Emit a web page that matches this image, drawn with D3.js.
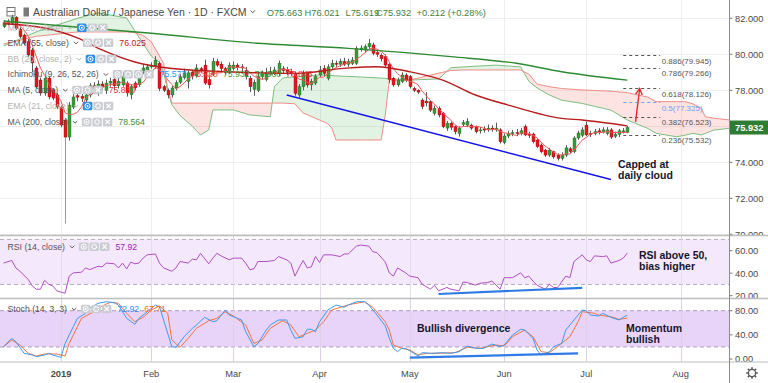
<!DOCTYPE html>
<html><head><meta charset="utf-8">
<script src="https://cdn.jsdelivr.net/npm/d3@7/dist/d3.min.js"></script>
<style>html,body{margin:0;padding:0;background:#fff}svg{display:block}</style>
</head><body>
<svg id="chart" width="768" height="383" font-family="'Liberation Sans', Arial, sans-serif"></svg>
<script>
// ---------------- DATA ----------------
const barOpen = [81.53,81.76,81.72,82.05,81.40,81.07,80.70,80.24,79.24,78.57,77.85,78.68,78.02,77.74,77.07,76.35,75.40,77.07,77.70,77.66,77.46,77.74,78.25,78.00,78.35,78.00,78.40,78.60,78.25,78.30,78.40,77.75,78.40,78.30,79.00,79.10,79.30,79.30,79.50,78.20,78.00,77.74,78.13,78.45,78.70,78.50,79.00,78.80,79.20,79.40,78.60,78.90,79.60,79.45,79.20,79.00,79.20,79.40,79.30,79.10,78.67,78.05,78.00,78.76,78.60,79.00,78.95,78.95,79.20,79.13,79.05,78.94,77.74,78.20,78.94,78.30,78.40,78.85,79.22,78.67,79.30,79.50,79.45,79.60,79.45,79.50,79.50,80.25,80.24,80.42,80.52,80.10,79.95,79.87,79.45,78.67,78.30,78.48,78.85,78.76,78.10,78.00,77.46,77.40,77.37,76.72,77.00,76.72,75.90,76.17,75.98,75.60,76.10,76.07,76.07,75.98,75.75,75.85,75.80,75.90,75.80,75.80,75.10,75.46,75.60,75.65,75.60,75.98,75.55,75.57,75.24,74.96,74.68,74.40,74.59,74.40,74.22,74.40,74.75,74.60,75.35,75.50,76.07,75.60,75.60,75.75,75.70,75.60,75.80,75.45,75.55,75.70,75.663];
const barHigh = [81.90,81.95,82.20,82.12,81.50,81.15,80.85,80.35,79.35,78.70,78.80,78.75,78.10,77.85,77.15,76.45,77.35,77.90,77.85,77.80,77.90,78.40,78.45,78.55,78.50,78.60,78.70,78.75,78.70,79.00,78.50,78.35,78.50,78.85,79.45,79.45,79.55,79.90,79.60,78.30,78.10,78.25,78.55,78.90,79.20,79.10,79.10,79.45,79.30,79.70,78.75,79.80,79.75,79.60,79.30,79.55,79.60,79.50,79.45,79.30,78.80,78.60,78.95,79.10,79.25,79.30,79.30,79.65,79.35,79.30,79.20,79.05,78.35,79.10,79.05,78.65,78.90,79.35,79.40,79.45,79.70,79.65,79.75,79.80,79.75,79.85,80.45,80.50,80.55,80.85,80.65,80.20,80.05,80.00,79.50,78.75,78.70,79.00,78.95,78.85,78.20,78.05,77.55,77.90,77.45,77.15,77.10,76.80,76.30,76.25,76.05,76.00,76.35,76.45,76.15,76.05,75.95,76.00,76.10,76.05,76.20,75.90,75.60,75.75,75.80,75.85,75.90,76.10,75.70,75.65,75.30,75.05,74.75,74.80,74.65,74.50,74.55,74.95,74.85,75.45,75.75,75.95,76.26,75.75,75.85,75.90,75.95,75.95,75.90,75.70,75.85,75.90,76.021];
const barLow = [81.45,81.60,81.65,81.35,80.90,80.50,79.85,79.00,78.10,77.70,77.70,77.50,77.45,76.95,75.95,70.60,75.20,76.95,77.40,77.35,77.35,77.60,77.90,77.70,78.00,77.80,78.20,78.00,78.10,78.20,77.65,77.50,78.00,78.20,78.90,79.00,79.20,79.20,77.95,77.90,77.55,77.60,78.00,78.35,78.60,78.10,78.60,78.70,78.95,78.30,78.10,78.80,79.30,79.05,78.85,78.90,79.10,79.10,79.05,78.60,77.90,77.70,77.90,78.60,78.50,78.85,78.85,78.80,78.95,78.85,78.80,77.70,77.60,78.00,78.15,78.00,78.30,78.75,78.80,78.55,79.20,79.30,79.30,79.35,79.30,79.40,79.40,80.15,80.10,80.30,79.95,79.85,79.60,79.30,78.40,78.20,78.20,78.40,78.45,78.10,77.90,77.80,76.95,77.10,76.80,76.60,76.50,75.90,75.75,75.80,75.55,75.42,76.00,75.95,75.80,75.60,75.60,75.65,75.70,75.70,75.70,75.05,75.00,75.35,75.45,75.45,75.50,75.45,75.35,75.05,74.80,74.50,74.30,74.30,74.20,74.10,74.10,74.30,74.50,74.50,75.25,75.40,75.45,75.40,75.50,75.55,75.60,75.50,75.30,75.35,75.40,75.60,75.619];
const barClose = [81.76,81.70,82.05,81.44,80.98,80.63,79.96,79.52,78.18,77.85,78.68,77.63,77.57,77.07,76.07,75.40,77.18,77.63,77.62,77.55,77.74,78.25,78.10,78.35,78.20,78.40,78.50,78.25,78.50,78.75,77.85,78.20,78.15,78.76,79.24,79.30,79.40,79.68,78.10,78.00,77.74,78.13,78.42,78.75,78.97,78.97,78.80,79.24,79.10,78.40,78.30,79.60,79.40,79.20,79.00,79.40,79.40,79.30,79.25,78.75,78.20,78.45,78.76,78.90,79.00,79.05,79.13,79.50,79.10,79.00,78.95,77.83,78.20,78.94,78.30,78.50,78.76,79.13,78.94,79.30,79.50,79.45,79.60,79.45,79.60,79.68,80.33,80.35,80.42,80.60,80.06,80.00,79.75,79.40,78.60,78.30,78.57,78.85,78.57,78.20,78.00,77.90,77.09,77.30,76.90,77.00,76.63,75.98,76.17,75.95,75.70,75.90,76.20,76.26,75.90,75.70,75.80,75.80,75.90,75.85,75.90,75.14,75.46,75.60,75.65,75.60,75.75,75.52,75.50,75.14,74.87,74.59,74.40,74.68,74.30,74.22,74.40,74.80,74.60,75.35,75.63,75.80,75.52,75.55,75.70,75.70,75.80,75.80,75.40,75.55,75.75,75.75,75.932];

// EMA 55 and MA 200 (bar index, value)
const ema55Idx = [0,10,18,24,32,40,56,71,83,91,99,107,115,123,136,141,152];
const ema55Val = [81.7,81.46,80.91,80.24,79.57,79.24,79.02,78.94,79.22,79.31,79.03,78.57,77.74,77.18,76.44,76.35,76.025];
const ma200Idx = [0,36,62,84,109,125,136,152];
const ma200Val = [81.85,81.17,80.61,80.33,79.87,79.5,79.03,78.564];

// Ichimoku cloud (leading spans, projected 26 bars ahead)
const ichiIdx = [0,8,18,23,30,32,34,36,38,39,40,41,43,46,48,50,51,56,60,65,66,68,71,73,77,79,80,81,87,92,93,94,99,106,109,112,120,126,128,130,133,136,141,148,152,157,159,164,166,168,170,171,173,177];
const spanA = [80.46,81.25,82.0,82.3,82.02,81.3,80.6,79.9,79.55,79.0,78.0,77.2,76.6,76.0,75.52,75.8,76.91,76.91,76.63,76.53,78.2,78.68,78.75,78.8,78.85,78.85,78.82,78.8,78.74,78.68,78.66,78.64,78.57,78.63,79.25,79.3,79.4,79.3,78.5,78.13,77.74,77.45,77.27,76.9,76.35,75.88,75.61,75.42,75.5,75.61,75.52,75.6,75.79,75.89];
const spanB = [80.57,81.0,81.24,81.24,81.24,81.2,81.05,80.7,79.9,79.5,78.1,77.29,77.29,77.29,77.29,77.29,77.29,77.29,77.29,77.29,77.29,77.29,77.25,76.74,76.35,76.15,75.9,75.24,75.24,75.24,76.6,78.57,78.57,78.95,79.1,79.13,79.13,79.13,78.9,78.35,78.2,78.1,78.02,77.95,77.87,77.62,77.37,77.37,77.37,77.25,77.0,76.53,76.45,76.35];

// RSI (14)
const rsiIdx = [0,2,3,4,6,7,8,9,10,11,12,13,15,16,17,19,20,21,23,24,25,27,28,29,30,31,32,33,34,35,37,38,39,41,42,43,45,46,47,48,50,51,52,53,55,56,58,59,60,61,62,64,66,67,69,70,71,72,73,74,75,76,77,78,80,82,83,84,86,87,89,90,91,93,94,95,96,98,99,101,102,104,105,106,108,109,111,112,113,115,116,118,119,121,122,124,126,127,128,129,130,132,133,134,135,137,138,139,141,142,143,144,146,147,148,150,151,152];
const rsiVal = [49.0,51.3,44.7,41.7,34.5,28.7,25.8,25.8,33.7,30.2,28.7,24.3,22.1,37.4,40.3,40.9,44.7,43.2,46.1,45.6,49.0,48.4,44.7,49.0,43.8,49.9,48.4,49.0,53.4,56.3,57.1,49.0,44.7,41.7,44.7,50.4,49.0,52.5,51.9,57.7,48.4,53.4,57.7,55.4,51.9,53.4,53.4,49.0,43.2,43.8,50.4,50.4,51.3,54.8,51.9,49.0,37.4,44.7,51.3,44.7,45.6,54.8,49.6,56.3,56.3,54.8,57.1,57.1,64.1,65.0,64.1,59.1,58.3,50.0,40.3,37.4,44.7,40.3,37.4,36.0,30.2,25.8,29.3,24.3,27.3,25.8,24.3,32.2,31.7,29.3,31.0,31.7,33.0,25.8,36.0,36.0,40.3,36.0,37.4,33.0,29.3,25.8,30.2,27.3,27.3,37.4,36.0,50.4,56.3,51.9,50.4,55.4,54.8,55.4,49.0,51.3,53.4,57.92];

// Stochastic (14,3,3): %K and %D
const kIdx = [0,2,3,5,7,8,10,11,12,14,15,17,18,20,21,23,25,27,28,30,32,33,35,37,38,39,41,42,44,46,47,49,51,52,54,55,57,58,59,61,62,64,65,67,69,70,71,73,74,75,76,77,78,79,81,82,83,84,86,88,89,91,93,94,95,96,97,98,100,101,102,104,107,109,111,113,115,117,119,121,122,124,126,127,129,130,131,133,134,136,137,139,141,142,143,145,146,148,150,151,152];
const kVal = [20.4,34.2,28.7,9.4,6.6,3.9,6.6,9.4,6.6,2.8,25.9,53.5,67.4,75.7,83.9,92.2,94.9,93.2,89.4,67.4,57.5,67.4,78.3,89.4,86.6,64.6,20.4,19.4,36.9,50.8,56.3,69.0,61.8,63.4,81.1,72.8,67.4,64.6,45.2,20.4,25.9,48.0,56.3,64.6,64.6,48.0,34.2,36.9,49.2,49.2,45.2,61.8,71.2,81.1,89.4,87.7,85.6,89.4,94.9,94.9,89.4,72.8,55,34.2,17.7,12.1,17.7,17.7,9.4,5.0,10.5,9.4,10.5,9.4,12.1,21.5,17.7,17.7,24.8,20.4,23.2,39.7,49.2,48.0,34.2,14.9,6.6,12.1,20.4,25.9,48.0,64.6,81.1,80.0,72.8,71.2,75.7,69.0,64.6,69.0,72.92];
const dIdx = [0,2,4,6,8,10,13,15,16,18,19,22,24,26,28,30,32,34,36,38,40,41,43,45,47,50,52,54,56,59,61,63,65,68,70,72,74,76,78,80,83,85,88,90,93,94,95,97,99,101,103,106,110,113,116,120,122,124,127,129,131,133,135,138,140,141,144,145,148,150,152];
const dVal = [20.4,31.5,23.2,9.4,5.0,8.3,8.3,5.0,25.9,53.5,67.4,78.3,87.7,93.9,92.2,75.7,61.8,69.0,81.1,87.7,75.7,31.5,19.4,34.2,50.8,63.4,67.4,78.3,71.2,56.3,25.9,31.5,50.8,63.4,56.3,36.9,42.5,48.0,61.8,81.1,87.7,91.1,94.9,85.6,61.8,48.0,23.2,17.7,14.9,6.6,9.4,9.4,10.5,19.4,17.7,23.2,21.5,36.9,48.0,36.9,12.1,10.5,20.4,36.9,61.8,78.3,75.7,72.8,70.0,65.7,67.71];

// drawings
const trendIdx = [69,148];        const trendVal = [77.74,73.04];
const arrowIdx = [154,155];       const arrowVal = [76.25,78.10];
const rsiDivIdx = [106,141];      const rsiDivVal = [21.5,27.0];
const stoDivIdx = [99,140];       const stoDivVal = [2.2,9.4];
const fibRatios = ["0.886","0.786","0.618","0.5","0.382","0.236"];
const fibPrices = [79.945,79.266,78.126,77.325,76.523,75.532];
const fibIdx = [151,160];

// ticks / labels
const priceTicks = [70,72,74,76,78,80,82];
const rsiTicks = [20,40,60];
const stoTicks = [0,40,80];
const monthLabels = ["2019","Feb","Mar","Apr","May","Jun","Jul","Aug"];
const monthStarts = ["2019-01-02","2019-02-01","2019-03-01","2019-04-01","2019-05-01","2019-06-03","2019-07-01","2019-08-01"];
const lastPrice = 75.932;

// ---------------- SETUP ----------------
const svg = d3.select("#chart");
const defs = svg.append("defs");
const PR = 729; // price axis left edge
function clip(id,x,y,w,h){defs.append("clipPath").attr("id",id).append("rect").attr("x",x).attr("y",y).attr("width",w).attr("height",h);}
clip("cMain",0,0,PR,235); clip("cRsi",0,236,PR,62); clip("cSto",0,299,PR,63);
clip("cAxMain",PR,0,768-PR,235.5); clip("cAxRsi",PR,236,768-PR,62); clip("cAxSto",PR,299,768-PR,63);

const fmt = d3.utcFormat("%Y-%m-%d");
const holidays = new Set(["2018-12-25","2019-01-01"]);
const days = d3.utcDay.range(new Date(Date.UTC(2018,11,11)), new Date(Date.UTC(2019,8,1)))
  .filter(d => d.getUTCDay()%6 !== 0 && !holidays.has(fmt(d)));
const dayIndex = new Map(days.map((d,i)=>[fmt(d),i]));
const x = d3.scaleLinear().domain([dayIndex.get("2019-01-02"), dayIndex.get("2019-08-01")]).range([61,680.7]);
const yP = d3.scaleLinear().domain([70,82]).range([234.3,18.3]);
const yR = d3.scaleLinear().domain([20,60]).range([295.7,250.7]);
const yS = d3.scaleLinear().domain([0,80]).range([359,310.7]);

svg.append("rect").attr("width",768).attr("height",383).attr("fill","#fff");

// ---------------- GRID ----------------
const grid = svg.append("g").attr("stroke","#eeeeee").attr("stroke-width",1);
priceTicks.forEach(t=>grid.append("line").attr("x1",0).attr("x2",PR).attr("y1",Math.round(yP(t))+0.5).attr("y2",Math.round(yP(t))+0.5));
monthStarts.forEach(m=>{const xx=Math.round(x(dayIndex.get(m)))+0.5; grid.append("line").attr("x1",xx).attr("x2",xx).attr("y1",0).attr("y2",362);});

// RSI band
const rsiG = svg.append("g").attr("clip-path","url(#cRsi)");
rsiG.append("rect").attr("x",0).attr("width",PR).attr("y",yR(70)).attr("height",yR(30)-yR(70)).attr("fill","#f4e8fc");
[70,30].forEach(v=>rsiG.append("line").attr("x1",0).attr("x2",PR).attr("y1",yR(v)).attr("y2",yR(v)).attr("stroke","#b9a9c4").attr("stroke-dasharray","4,3"));
monthStarts.forEach(m=>{const xx=Math.round(x(dayIndex.get(m)))+0.5; rsiG.append("line").attr("x1",xx).attr("x2",xx).attr("y1",236).attr("y2",298).attr("stroke","#e6dcec");});
// Stoch band
const stoG = svg.append("g").attr("clip-path","url(#cSto)");
stoG.append("rect").attr("x",0).attr("width",PR).attr("y",yS(80)).attr("height",yS(20)-yS(80)).attr("fill","#e9d4f9");
[80,20].forEach(v=>stoG.append("line").attr("x1",0).attr("x2",PR).attr("y1",yS(v)).attr("y2",yS(v)).attr("stroke","#ad9bbb").attr("stroke-dasharray","4,3"));
monthStarts.forEach(m=>{const xx=Math.round(x(dayIndex.get(m)))+0.5; stoG.append("line").attr("x1",xx).attr("x2",xx).attr("y1",299).attr("y2",362).attr("stroke","#ddd0e8");});

// ---------------- MAIN PANE ----------------
const main = svg.append("g").attr("clip-path","url(#cMain)");
// Ichimoku cloud
const cloud = ichiIdx.map((i,k)=>({x:x(i),a:yP(spanA[k]),b:yP(spanB[k])}));
defs.append("clipPath").attr("id","cAboveB").append("path").attr("d",d3.area().x(d=>d.x).y0(d=>d.b).y1(-10)(cloud));
defs.append("clipPath").attr("id","cBelowB").append("path").attr("d",d3.area().x(d=>d.x).y0(d=>d.b).y1(400)(cloud));
const between = d3.area().x(d=>d.x).y0(d=>d.b).y1(d=>d.a)(cloud);
main.append("g").attr("clip-path","url(#cAboveB)").append("path").attr("d",between).attr("fill","rgba(76,175,80,0.16)");
main.append("g").attr("clip-path","url(#cBelowB)").append("path").attr("d",between).attr("fill","rgba(244,67,54,0.15)");
main.append("path").attr("d",d3.line().x(d=>d.x).y(d=>d.a)(cloud)).attr("fill","none").attr("stroke","#7cbf7f").attr("stroke-width",1);
main.append("path").attr("d",d3.line().x(d=>d.x).y(d=>d.b)(cloud)).attr("fill","none").attr("stroke","#f08c88").attr("stroke-width",1);

// Candles
const cg = main.append("g");
barClose.forEach((c,i)=>{
  const o=barOpen[i], up=c>=o, xx=Math.round(x(i));
  cg.append("line").attr("x1",xx+0.5).attr("x2",xx+0.5).attr("y1",yP(barHigh[i])).attr("y2",yP(barLow[i]))
    .attr("stroke", i===15 ? "#9a9a9a" : "#5a5a5a").attr("stroke-width",1);
  const top=yP(Math.max(o,c)), h=Math.max(1,Math.abs(yP(o)-yP(c)));
  cg.append("rect").attr("x",xx-1).attr("width",3).attr("y",top).attr("height",h)
    .attr("fill",up?"#3a9a3a":"#e8141b").attr("stroke",up?"#1f6b22":"#8c1010").attr("stroke-width",0.4);
});

// MA 5 (computed from closes)
const ma5 = barClose.map((c,i)=>{const s=barClose.slice(Math.max(0,i-4),i+1);return d3.mean(s);});
main.append("path").attr("d",d3.line().x((d,i)=>x(i)).y(d=>yP(d))(ma5)).attr("fill","none").attr("stroke","#ee5a5a").attr("stroke-width",1);
// EMA 55
main.append("path").attr("d",d3.line().curve(d3.curveMonotoneX).x(d=>x(d[0])).y(d=>yP(d[1]))(ema55Idx.map((i,k)=>[i,ema55Val[k]])))
  .attr("fill","none").attr("stroke","#b71c1c").attr("stroke-width",1.4);
// MA 200
main.append("path").attr("d",d3.line().curve(d3.curveMonotoneX).x(d=>x(d[0])).y(d=>yP(d[1]))(ma200Idx.map((i,k)=>[i,ma200Val[k]])))
  .attr("fill","none").attr("stroke","#2e8b34").attr("stroke-width",1.4);
// trend line
main.append("line").attr("x1",x(trendIdx[0])).attr("y1",yP(trendVal[0])).attr("x2",x(trendIdx[1])).attr("y2",yP(trendVal[1]))
  .attr("stroke","#1414e6").attr("stroke-width",1.5);
// fib levels
fibPrices.forEach((p,k)=>{
  const blue = fibRatios[k]==="0.5";
  main.append("line").attr("x1",x(fibIdx[0])).attr("x2",x(fibIdx[1])).attr("y1",Math.round(yP(p))+0.5).attr("y2",Math.round(yP(p))+0.5)
    .attr("stroke",blue?"#6f9ff0":"#555").attr("stroke-dasharray","3,3").attr("stroke-width",1);
  main.append("text").attr("x",x(fibIdx[1])+1.5).attr("y",yP(p)+8.5).attr("font-size",8).attr("fill",blue?"#6f9ff0":"#555")
    .text(`${fibRatios[k]}(${p.toFixed(3)})`);
});
// arrow
{
  const x1=x(arrowIdx[0]),y1=yP(arrowVal[0]),x2=x(arrowIdx[1]),y2=yP(arrowVal[1]);
  const ang=Math.atan2(y2-y1,x2-x1), L=7;
  const ag=main.append("g").attr("stroke","#dd2c2c").attr("stroke-width",1.4).attr("fill","none");
  ag.append("line").attr("x1",x1).attr("y1",y1).attr("x2",x2).attr("y2",y2);
  ag.append("polyline").attr("points",[[x2-L*Math.cos(ang-0.5),y2-L*Math.sin(ang-0.5)],[x2,y2],[x2-L*Math.cos(ang+0.5),y2-L*Math.sin(ang+0.5)]].map(p=>p.join(",")).join(" "));
}
// annotation
const note = (g,xx,yy,lines)=>lines.forEach((t,k)=>g.append("text").attr("x",xx).attr("y",yy+k*11).attr("font-size",10.5).attr("font-weight","bold").attr("fill","#16162a").text(t));
note(main,618,168,["Capped at","daily cloud"]);

// ---------------- RSI ----------------
rsiG.append("path").attr("d",d3.line().x(d=>x(d[0])).y(d=>yR(d[1]))(rsiIdx.map((i,k)=>[i,rsiVal[k]]))).attr("fill","none").attr("stroke","#b04fc4").attr("stroke-width",1);
rsiG.append("line").attr("x1",x(rsiDivIdx[0])).attr("y1",yR(rsiDivVal[0])).attr("x2",x(rsiDivIdx[1])).attr("y2",yR(rsiDivVal[1])).attr("stroke","#2f7be6").attr("stroke-width",2.2);
note(rsiG,639,258.5,["RSI above 50,","bias higher"]);

// ---------------- STOCH ----------------
stoG.append("path").attr("d",d3.line().x(d=>x(d[0])).y(d=>yS(d[1]))(dIdx.map((i,k)=>[i,dVal[k]]))).attr("fill","none").attr("stroke","#f4733f").attr("stroke-width",1);
stoG.append("path").attr("d",d3.line().x(d=>x(d[0])).y(d=>yS(d[1]))(kIdx.map((i,k)=>[i,kVal[k]]))).attr("fill","none").attr("stroke","#3d9bf0").attr("stroke-width",1);
stoG.append("line").attr("x1",x(stoDivIdx[0])).attr("y1",yS(stoDivVal[0])).attr("x2",x(stoDivIdx[1])).attr("y2",yS(stoDivVal[1])).attr("stroke","#2f7be6").attr("stroke-width",2.2);
note(stoG,417,332,["Bullish divergence"]);
note(stoG,626,331.5,["Momentum","bullish"]);

// ---------------- LEGENDS ----------------
function icon(g,xx,yy,kind){
  const blue = kind==="eyeOff";
  g.append("rect").attr("x",xx).attr("y",yy).attr("width",9.5).attr("height",8.5).attr("rx",1.5).attr("fill",blue?"#2f8de4":"#cbcdd2");
  const cx=xx+4.75, cy=yy+4.25;
  if(kind==="eye"||kind==="eyeOff"){
    g.append("circle").attr("cx",cx).attr("cy",cy).attr("r",2.6).attr("fill","none").attr("stroke","#fff").attr("stroke-width",1);
    g.append("circle").attr("cx",cx).attr("cy",cy).attr("r",1).attr("fill","#fff");
  } else if(kind==="gear"){
    g.append("circle").attr("cx",cx).attr("cy",cy).attr("r",2.3).attr("fill","none").attr("stroke","#fff").attr("stroke-width",1.5).attr("stroke-dasharray","1.2,0.6");
  } else if(kind==="info"){
    g.append("circle").attr("cx",cx).attr("cy",cy).attr("r",2.8).attr("fill","none").attr("stroke","#fff").attr("stroke-width",0.9);
    g.append("line").attr("x1",cx).attr("x2",cx).attr("y1",cy-1).attr("y2",cy+1.8).attr("stroke","#fff");
  } else {
    g.append("path").attr("d",`M${cx-2.2},${cy-2.2}L${cx+2.2},${cy+2.2}M${cx+2.2},${cy-2.2}L${cx-2.2},${cy+2.2}`).attr("stroke","#fff").attr("stroke-width",1.2);
  }
}
function legendRow(g,yc,label,hidden,icons,values){
  const t=g.append("text").attr("x",7.5).attr("y",yc+3).attr("font-size",8.7).attr("fill",hidden?"#b3b3b3":"#555").text(label);
  const w=t.node().getComputedTextLength();
  const cx=7.5+w+5;
  g.append("path").attr("d",`M${cx},${yc-1}l2.2,2.2l2.2,-2.2`).attr("fill","none").attr("stroke",hidden?"#b3b3b3":"#555").attr("stroke-width",1);
  let ix=7.5+w+14;
  icons.forEach(k=>{icon(g,ix,yc-4.3,k);ix+=10.5;});
  ix+=5;
  values.forEach(([v,c])=>{const tv=g.append("text").attr("x",ix).attr("y",yc+3).attr("font-size",8.7).attr("fill",c).text(v);ix+=tv.node().getComputedTextLength()+5;});
}
const lg = svg.append("g");
legendRow(lg,27.7,"MA (20, close)",true,["eyeOff","gear","x"],[]);
legendRow(lg,42.7,"EMA (55, close)",false,["eye","gear","x"],[["76.025","#b71c1c"]]);
legendRow(lg,59,"BB (20, close, 2)",true,["eyeOff","gear","x"],[]);
legendRow(lg,74.3,"Ichimoku (9, 26, 52, 26)",false,["eye","gear","info","x"],[["75.577","#2196f3"],["75.780","#e53935"],["75.932","#43a047"],["76.960","#43a047"],["76.843","#e53935"]]);
legendRow(lg,90,"MA (5, close)",false,["eye","gear","x"],[["75.830","#e53935"]]);
legendRow(lg,106,"EMA (21, close)",true,["eyeOff","gear","x"],[]);
legendRow(lg,122,"MA (200, close)",false,["eye","gear","x"],[["78.564","#388e3c"]]);
legendRow(lg,246.7,"RSI (14, close)",false,["eye","gear","x"],[["57.92","#9c27b0"]]);
legendRow(lg,309,"Stoch (14, 3, 3)",false,["eye","gear","x"],[["72.92","#2196f3"],["67.71","#ff6d00"]]);

// header
svg.append("rect").attr("x",7).attr("y",7.5).attr("width",8).attr("height",8.5).attr("fill","none").attr("stroke","#777").attr("stroke-width",1);
svg.append("line").attr("x1",7).attr("x2",15).attr("y1",11.5).attr("y2",11.5).attr("stroke","#777");
svg.append("rect").attr("x",23.5).attr("y",7.5).attr("width",5.5).attr("height",9).attr("fill","#7a7a7a");
svg.append("text").attr("x",33).attr("y",15.8).attr("font-size",10.5).attr("fill","#4a4a4a").text("Australian Dollar / Japanese Yen · 1D · FXCM");
svg.append("path").attr("d","M250.5,10.5l2.2,2.2l2.2,-2.2").attr("fill","none").attr("stroke","#555");
const ohlc=[["O75.663",266.7],["H76.021",304.5],["L75.619",345.5],["C75.932",376],["+0.212 (+0.28%)",416.5]];
ohlc.forEach(([t,xx])=>svg.append("text").attr("x",xx).attr("y",15.8).attr("font-size",9.3).attr("fill","#3f7f42").text(t));

// ---------------- AXES ----------------
const ax = svg.append("g").attr("font-size",9.3).attr("fill","#4a4a4a");
function axisLabels(clipId,ticks,scale,f){
  const g=ax.append("g").attr("clip-path",`url(#${clipId})`);
  ticks.forEach(t=>{
    g.append("line").attr("x1",PR).attr("x2",PR+3.5).attr("y1",scale(t)).attr("y2",scale(t)).attr("stroke","#777");
    g.append("text").attr("x",PR+6).attr("y",scale(t)+3.3).text(f(t));
  });
}
axisLabels("cAxMain",priceTicks,yP,d3.format(".3f"));
axisLabels("cAxRsi",rsiTicks,yR,d3.format(".2f"));
axisLabels("cAxSto",stoTicks,yS,d3.format(".2f"));
// last price label
svg.append("rect").attr("x",PR+1).attr("y",yP(lastPrice)-7).attr("width",768-PR-1).attr("height",14).attr("fill","#2f7d32");
svg.append("text").attr("x",PR+6).attr("y",yP(lastPrice)+3.3).attr("font-size",9.3).attr("font-weight","bold").attr("fill","#fff").text(lastPrice.toFixed(3));

// separators
const sep = svg.append("g").attr("stroke","#bdbdbd");
sep.append("line").attr("x1",0).attr("x2",768).attr("y1",235.5).attr("y2",235.5).attr("stroke-width",1.5);
sep.append("line").attr("x1",0).attr("x2",768).attr("y1",298.5).attr("y2",298.5).attr("stroke-width",1.5);
sep.append("line").attr("x1",0).attr("x2",768).attr("y1",362).attr("y2",362).attr("stroke-width",1.2);
sep.append("line").attr("x1",PR+0.5).attr("x2",PR+0.5).attr("y1",0).attr("y2",383).attr("stroke","#8c8c8c");

// time axis
monthLabels.forEach((lab,k)=>{
  ax.append("text").attr("x",x(dayIndex.get(monthStarts[k]))).attr("y",376.5).attr("text-anchor","middle")
    .attr("font-weight",lab==="2019"?"bold":"normal").text(lab);
});
// gear icon
{
  const g=svg.append("g").attr("stroke","#555").attr("fill","none");
  g.append("circle").attr("cx",752).attr("cy",373).attr("r",3.6).attr("stroke-width",1.3);
  for(let a=0;a<8;a++){const an=a*Math.PI/4;g.append("line").attr("x1",752+4*Math.cos(an)).attr("y1",373+4*Math.sin(an)).attr("x2",752+5.8*Math.cos(an)).attr("y2",373+5.8*Math.sin(an)).attr("stroke-width",1.6);}
}
</script></body></html>
